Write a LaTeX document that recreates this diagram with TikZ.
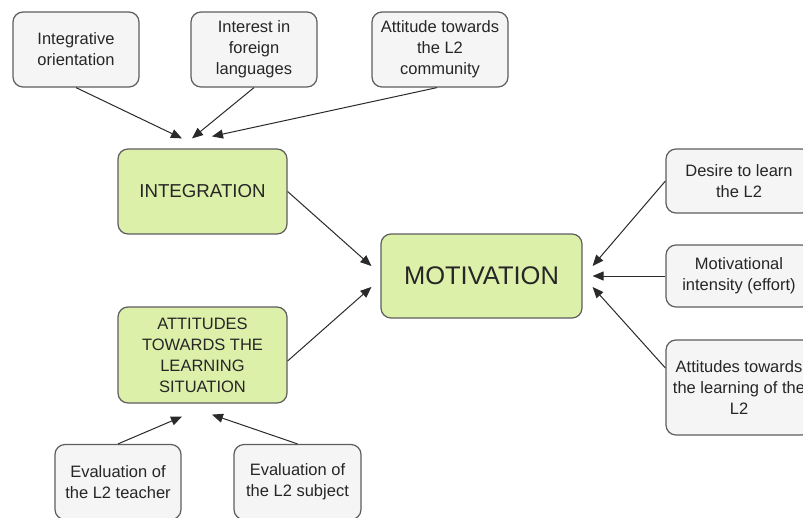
\documentclass[tikz,border=0pt]{standalone}
\usepackage{fontspec}
\setmainfont{Liberation Sans}
\usetikzlibrary{arrows.meta,calc}
\definecolor{keyfill}{HTML}{DDF0AA}
\definecolor{itemfill}{HTML}{F5F5F5}
\definecolor{boxline}{HTML}{5E5E5E}
\definecolor{arrowline}{HTML}{2A2A2A}
\tikzset{
  base/.style={draw=boxline, line width=1.2pt, rounded corners=10pt, align=center,
    inner sep=0pt, text=black!85, font=\fontsize{16.5}{21}\selectfont},
  itembox/.style={base, fill=itemfill},
  keybox/.style={base, fill=keyfill},
  link/.style={draw=arrowline, line width=1pt,
    -{Triangle[length=11pt,width=9pt]}},
}
\begin{document}
\begin{tikzpicture}[x=1pt,y=-1pt]
\useasboundingbox (0,0) rectangle (803,517);
\clip (0,0) rectangle (803,517);
\fill[white] (0,0) rectangle (803,517);

% sources of integration
\node[itembox, minimum width=126pt, minimum height=75pt] (io)  at (76,49.5)  {Integrative\\orientation};
\node[itembox, minimum width=126pt, minimum height=75pt] (ifl) at (254,49.5) {Interest in\\foreign\\languages};
\node[itembox, minimum width=136pt, minimum height=75pt] (att) at (440,49.5) {Attitude towards\\the L2\\community};

% main constructs
\node[keybox, minimum width=169pt, minimum height=85pt, font=\fontsize{18.7}{23}\selectfont] (integ) at (202.5,191.5) {INTEGRATION};
\node[keybox, minimum width=201pt, minimum height=84pt, font=\fontsize{25.5}{30}\selectfont] (motiv) at (481.5,276) {MOTIVATION};
\node[keybox, minimum width=169pt, minimum height=96pt] (ats) at (202.5,355) {ATTITUDES\\TOWARDS THE\\LEARNING\\SITUATION};

% evaluations
\node[itembox, minimum width=126pt, minimum height=75pt] (evt) at (118,482)   {Evaluation of\\the L2 teacher};
\node[itembox, minimum width=127pt, minimum height=75pt] (evs) at (297.5,482) {Evaluation of\\the L2 subject};

% components of motivation
\node[itembox, minimum width=146pt, minimum height=64pt] (des) at (739,181)   {Desire to learn\\the L2};
\node[itembox, minimum width=146pt, minimum height=62pt] (mi)  at (739,276)   {Motivational\\intensity (effort)};
\node[itembox, minimum width=146pt, minimum height=95pt] (atl) at (739,387.5) {Attitudes towards\\the learning of the\\L2};

% arrow end points, kept clear of the boxes
\coordinate (t1) at ($(integ.north)+(-20.5,-10)$);
\coordinate (t2) at ($(integ.north)+(-10.5,-10)$);
\coordinate (t3) at ($(integ.north)+(9.5,-12)$);
\coordinate (m1) at ($(motiv.west)+(-9,-10)$);
\coordinate (m2) at ($(motiv.west)+(-9,11)$);
\coordinate (r1) at ($(motiv.east)+(10,-10)$);
\coordinate (r2) at ($(motiv.east)+(10,0)$);
\coordinate (r3) at ($(motiv.east)+(10,11)$);
\coordinate (a1) at ($(ats.south)+(-20.5,13)$);
\coordinate (a2) at ($(ats.south)+(9.5,11)$);
\coordinate (atlside) at ($(atl.west)+(0,-19.5)$);

\draw[link] (io.south) -- (t1);
\draw[link] (ifl.south) -- (t2);
\draw[link] ($(att.south)+(-3,0)$) -- (t3);

\draw[link] (integ.east) -- (m1);
\draw[link] ($(ats.east)+(0,6)$) -- (m2);

\draw[link] (des.west) -- (r1);
\draw[link] (mi.west) -- (r2);
\draw[link] (atlside) -- (r3);

\draw[link] (evt.north) -- (a1);
\draw[link] (evs.north) -- (a2);
\end{tikzpicture}
\end{document}
